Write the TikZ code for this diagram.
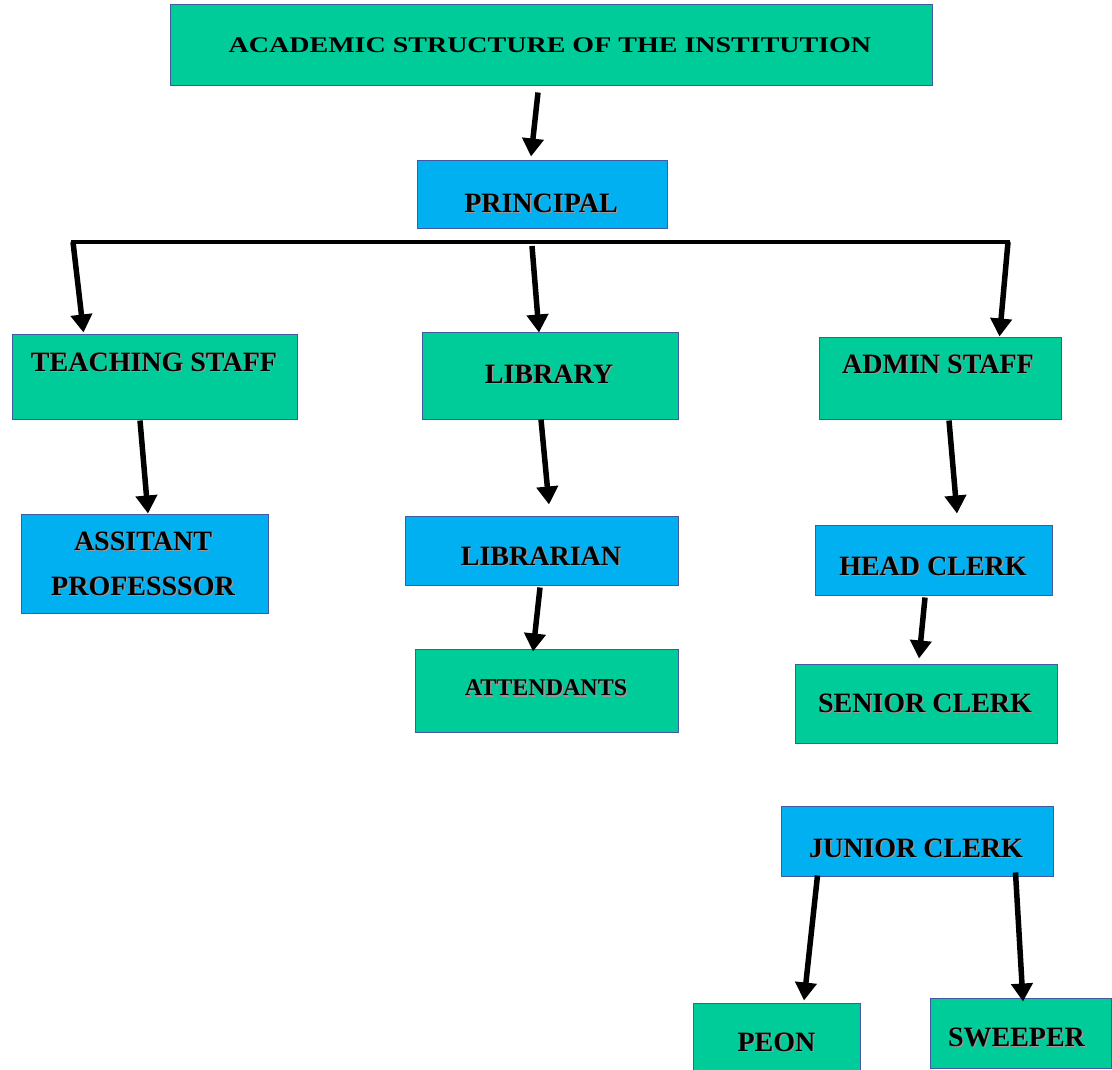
\documentclass[tikz,border=0pt]{standalone}
\usepackage{fontspec}
\usepackage{graphicx}
\setmainfont{Liberation Serif}
\usetikzlibrary{arrows.meta}
\definecolor{boxgreen}{RGB}{0,204,153}
\definecolor{boxblue}{RGB}{0,176,240}
\definecolor{boxline}{RGB}{65,90,160}
\newcommand\shd[1]{\leavevmode\rlap{\hspace{1.3pt}\raisebox{-1.3pt}{\color{black!40}#1}}#1}
\tikzset{
  gbox/.style={draw=boxline, line width=1pt, fill=boxgreen, inner sep=0pt},
  bbox/.style={draw=boxline, line width=1pt, fill=boxblue, inner sep=0pt},
  lbl/.style={inner sep=0pt, text height=18.5pt, text depth=0pt, font=\fontsize{28}{30}\selectfont\bfseries},
  conn/.style={line width=5.5pt, -{Triangle[length=18pt,width=21pt]}},
}
\begin{document}
\begin{tikzpicture}[x=1pt,y=-1pt]
\useasboundingbox (0,0) rectangle (1112,1070);
% boxes
\node[gbox, minimum width=762pt, minimum height=81pt] (title) at (551,45.5) {};
\node[bbox, minimum width=250pt, minimum height=67pt] (prin) at (542,194.5) {};
\node[gbox, minimum width=285pt, minimum height=85pt] (ts) at (154.5,376.5) {};
\node[gbox, minimum width=256pt, minimum height=87pt] (lib) at (550,375.5) {};
\node[gbox, minimum width=242pt, minimum height=82pt] (adm) at (940,378) {};
\node[bbox, minimum width=247pt, minimum height=99pt] (ap) at (144.5,563.5) {};
\node[bbox, minimum width=273pt, minimum height=69pt] (lbn) at (541.5,550.5) {};
\node[gbox, minimum width=263pt, minimum height=83pt] (att) at (546.5,690.5) {};
\node[bbox, minimum width=237pt, minimum height=70pt] (hc) at (933.5,560) {};
\node[gbox, minimum width=262pt, minimum height=79pt] (sc) at (926,703.5) {};
\node[bbox, minimum width=272pt, minimum height=70pt] (jc) at (917,841) {};
\node[gbox, minimum width=167pt, minimum height=69pt] (peon) at (776.5,1037.5) {};
\node[gbox, minimum width=181pt, minimum height=70pt] (swp) at (1020.5,1033) {};
% labels
\node[lbl, text height=14.8pt] (title-t) at ([shift={(-1,-0.5)}]title.center) {\scalebox{1}[0.8]{ACADEMIC STRUCTURE OF THE INSTITUTION}};
\node[lbl] (prin-t) at ([shift={(-1,8.5)}]prin.center) {\shd{PRINCIPAL}};
\node[lbl] (ts-t) at ([shift={(-0.5,-14.5)}]ts.center) {\shd{TEACHING STAFF}};
\node[lbl] (lib-t) at ([shift={(-1,-1.5)}]lib.center) {\shd{LIBRARY}};
\node[lbl] (adm-t) at ([shift={(-2,-14)}]adm.center) {\shd{ADMIN STAFF}};
\node[lbl] (ap-t1) at ([shift={(-1.5,-22.5)}]ap.center) {\shd{ASSITANT}};
\node[lbl] (ap-t2) at ([shift={(-1.5,22.5)}]ap.center) {\shd{PROFESSSOR}};
\node[lbl] (lbn-t) at ([shift={(-0.5,5.5)}]lbn.center) {\shd{LIBRARIAN}};
\node[lbl, text height=15.8pt, font=\fontsize{24}{26}\selectfont\bfseries] (att-t) at ([shift={(-0.5,-2.5)}]att.center) {\shd{ATTENDANTS}};
\node[lbl] (hc-t) at ([shift={(-0.5,6)}]hc.center) {\shd{HEAD CLERK}};
\node[lbl] (sc-t) at ([shift={(-1,-0.5)}]sc.center) {\shd{SENIOR CLERK}};
\node[lbl] (jc-t) at ([shift={(-1,7)}]jc.center) {\shd{JUNIOR CLERK}};
\node[lbl] (peon-t) at ([shift={(0,4.5)}]peon.center) {\shd{PEON}};
\node[lbl] (swp-t) at ([shift={(-4,4)}]swp.center) {\shd{SWEEPER}};
% bar
\coordinate (barL) at (73,242);
\coordinate (barR) at (1008,242);
\coordinate (barM) at (532,246);
\draw[line width=3.5pt, line cap=rect] (barL) -- (barR);
% connectors
\draw[conn] ([shift={(-13,6)}]title.south) -- ([shift={(-11,-4)}]prin.north);
\draw[conn] (barL) -- ([shift={(72,-1)}]ts.north west);
\draw[conn] (barM) -- ([shift={(-11,1)}]lib.north);
\draw[conn] (barR) -- ([shift={(-62,0)}]adm.north east);
\draw[conn] ([shift={(-14.5,1)}]ts.south) -- ([shift={(3.5,0)}]ap.north);
\draw[conn] ([shift={(-9,0)}]lib.south) -- ([shift={(7.5,-11)}]lbn.north);
\draw[conn] ([shift={(-1.5,2)}]lbn.south) -- ([shift={(-13.5,3)}]att.north);
\draw[conn] ([shift={(9,1)}]adm.south) -- ([shift={(23.5,-11)}]hc.north);
\draw[conn] ([shift={(-8.5,2)}]hc.south) -- ([shift={(-7,-5)}]sc.north);
\draw[conn] ([shift={(37,-1)}]jc.south west) -- ([shift={(27.5,-2)}]peon.north);
\draw[conn] ([shift={(-38,-4)}]jc.south east) -- ([shift={(2.5,4)}]swp.north);
\end{tikzpicture}
\end{document}
